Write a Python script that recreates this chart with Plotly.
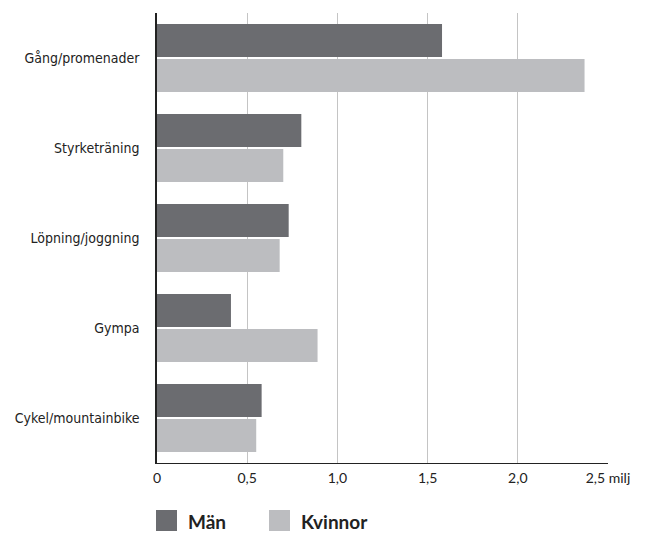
import plotly.graph_objects as go

categories = ["Gång/promenader", "Styrketräning", "Löpning/joggning", "Gympa", "Cykel/mountainbike"]
man = [1.58, 0.80, 0.73, 0.41, 0.58]
kvinnor = [2.37, 0.70, 0.68, 0.89, 0.55]
tick_vals = [0, 0.5, 1.0, 1.5, 2.0, 2.5]
tick_text = ["0", "0,5", "1,0", "1,5", "2,0", "2,5 milj"]
series_names = ["Män", "Kvinnor"]
colors = ["#6b6c70", "#bcbdc0"]

fig = go.Figure()
fig.add_trace(go.Bar(y=categories, x=man, orientation="h", name=series_names[0],
                     marker=dict(color=colors[0], line=dict(width=0)), showlegend=False))
fig.add_trace(go.Bar(y=categories, x=kvinnor, orientation="h", name=series_names[1],
                     marker=dict(color=colors[1], line=dict(width=0)), showlegend=False))

# page body has an 8px default margin, so the figure is 8px smaller than the window
fig.update_layout(
    width=640, height=525,
    margin=dict(l=149, r=40, t=5, b=70, autoexpand=False),
    paper_bgcolor="white", plot_bgcolor="white",
    barmode="group", bargap=0.22, bargroupgap=0.06,
    font=dict(family="Lato, sans-serif", color="#222"),
)
fig.update_xaxes(
    range=[0, 2.5], tickvals=tick_vals, ticktext=tick_text,
    showgrid=True, gridcolor="#c4c4c4", gridwidth=1.3,
    showline=True, linecolor="#222", linewidth=1,
    zeroline=False, ticks="", ticklabelstandoff=2, automargin=False,
    tickfont=dict(family="Lato, sans-serif", size=14, color="#222"),
    fixedrange=True,
)
fig.update_yaxes(
    categoryorder="array", categoryarray=categories, autorange="reversed",
    showline=True, linecolor="#222", linewidth=1.5,
    showgrid=False, ticks="", ticklabelstandoff=13, automargin=False,
    tickfont=dict(family="DejaVu Sans Condensed, DejaVu Sans", size=14, color="#222"),
    fixedrange=True,
)

# legend drawn as layout decoration (positions relative to plot area)
leg_x = [156, 269]
leg_text_x = [186, 299]
for i in range(2):
    fig.add_shape(type="rect", xref="paper", yref="paper",
                  x0=(leg_x[i] - 157) / 451, x1=(leg_x[i] + 21 - 157) / 451,
                  y0=-(510 - 463) / 450, y1=-(531 - 463) / 450,
                  fillcolor=colors[i], line=dict(width=0))
    fig.add_annotation(xref="paper", yref="paper",
                       x=(leg_text_x[i] - 157) / 451, y=-(521 - 463) / 450,
                       xanchor="left", yanchor="middle", showarrow=False,
                       text="<b>" + series_names[i] + "</b>",
                       font=dict(family="Lato, sans-serif", size=19, color="#222"))

fig.write_html("out.html")
